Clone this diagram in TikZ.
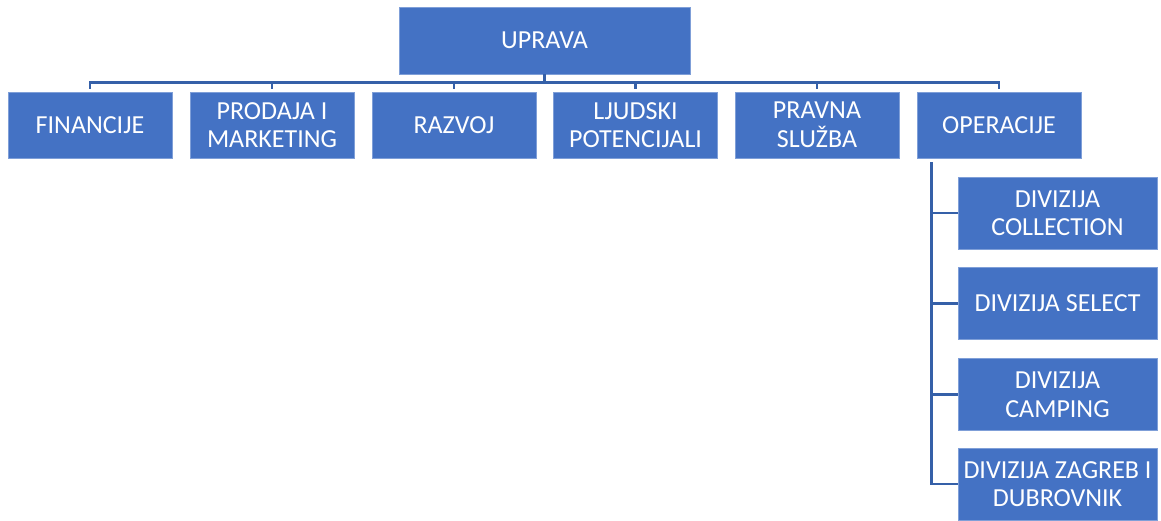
\documentclass[tikz,border=0pt]{standalone}
\usepackage{fontspec}
\setmainfont{Carlito}
\definecolor{boxfill}{HTML}{4472C4}
\definecolor{boxedge}{HTML}{7F9FD8}
\definecolor{linkcol}{HTML}{3560A8}
\begin{document}
\begin{tikzpicture}[x=1pt,y=-1pt,
  orgbox/.style={fill=boxfill,draw=boxedge,line width=0.8pt,text=white,align=center,
    inner sep=0pt,font=\fontsize{26}{28.5}\selectfont},
  topbox/.style={orgbox,minimum width=291,minimum height=67},
  rowbox/.style={orgbox,minimum width=164,minimum height=66},
  subbox/.style={orgbox,minimum width=199,minimum height=72},
  link/.style={draw=linkcol,line width=2.5pt}]
\useasboundingbox (0,0) rectangle (1161,520);
\node[topbox] (up) at (544.5,40.5) {UPRAVA};
\node[rowbox] (fin) at (90,125) {FINANCIJE};
\node[rowbox] (pro) at (272,125) {PRODAJA I\\MARKETING};
\node[rowbox] (raz) at (454,125) {RAZVOJ};
\node[rowbox] (lju) at (635.5,125) {LJUDSKI\\POTENCIJALI};
\node[rowbox] (pra) at (817,125) {PRAVNA\\SLUŽBA};
\node[rowbox] (ops) at (999,125) {OPERACIJE};
\node[subbox] (d1) at (1057.5,213) {DIVIZIJA\\COLLECTION};
\node[subbox] (d2) at (1057.5,303.5) {DIVIZIJA SELECT};
\node[subbox] (d3) at (1057.5,394.5) {DIVIZIJA\\CAMPING};
\node[subbox] (d4) at (1057.5,484) {DIVIZIJA ZAGREB I\\DUBROVNIK};
\foreach \c in {fin,pro,raz,lju,pra,ops}
  \draw[link,shorten >=3pt] (up.south) -- ++(0,8) -| (\c.north);
\foreach \c in {d1,d2,d3,d4}
  \draw[link,shorten <=4pt] ([xshift=15pt]ops.south west) |- (\c.west);
\end{tikzpicture}
\end{document}
